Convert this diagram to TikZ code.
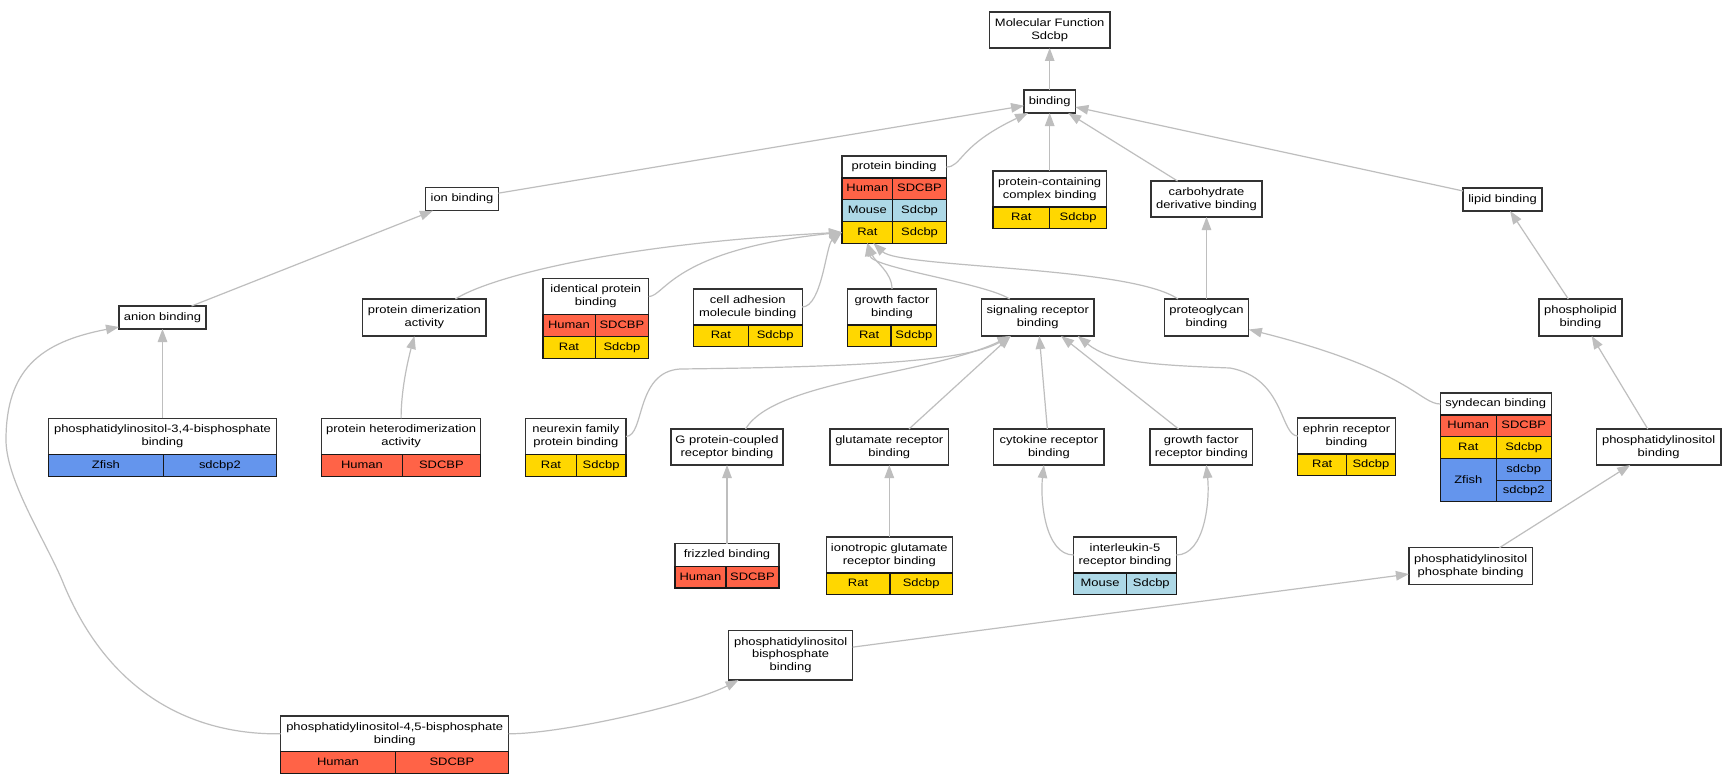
\documentclass[tikz,border=0pt]{standalone}
\usepackage{fontspec}
\setmainfont{Liberation Sans}[FakeStretch=1.2]
\usetikzlibrary{positioning,arrows.meta}
\definecolor{human}{HTML}{FF6347}
\definecolor{mouse}{HTML}{ADD8E6}
\definecolor{rat}{HTML}{FFD700}
\definecolor{zfish}{HTML}{6495ED}
\definecolor{linkgray}{HTML}{BEBEBE}
\newcommand{\gofont}{\fontsize{10.8}{12.8}\selectfont}
% one row of two species cells under a node
\newcommand{\speciesrow}[7]{%
  \node[#3, minimum width=#4, below right=0pt of #2.south west] (#1a) {#5};
  \node[#3, minimum width=#6, right=0pt of #1a] (#1b) {#7};
}
\tikzset{
  term/.style={draw=black!80, line width=1.2pt, fill=white, outer sep=0pt, inner sep=1pt, align=center, font=\gofont},
  cell/.style={draw=black!90, line width=1.2pt, outer sep=0pt, inner sep=0pt, minimum height=21.7, text height=8pt, text depth=2pt, font=\gofont},
  humancell/.style={cell, fill=human},
  mousecell/.style={cell, fill=mouse},
  ratcell/.style={cell, fill=rat},
  zfishcell/.style={cell, fill=zfish},
  isa/.style={draw=linkgray, line width=1.2pt, -{Triangle[length=13pt,width=9.5pt]}}
}
\begin{document}
\begin{tikzpicture}[x=1pt, y=-1pt]
\fill[white] (0,0) rectangle (1735,784);

\node[term, minimum width=120.5, minimum height=36] (mf) at (1049.7,30) {Molecular Function\\Sdcbp};
\node[term, minimum width=51.3, minimum height=23] (bind) at (1049.7,101.5) {binding};

\node[term, minimum width=104.4, minimum height=22] (pbind) at (894.1,167) {protein binding};
\speciesrow{pbindr1}{pbind}{humancell}{50.9}{Human}{53.5}{SDCBP}
\speciesrow{pbindr2}{pbindr1a}{mousecell}{50.9}{Mouse}{53.5}{Sdcbp}
\speciesrow{pbindr3}{pbindr2a}{ratcell}{50.9}{Rat}{53.5}{Sdcbp}
\node[term, minimum width=113.6, minimum height=36] (pcc) at (1049.7,189) {protein-containing\\complex binding};
\speciesrow{pccr1}{pcc}{ratcell}{56.8}{Rat}{56.8}{Sdcbp}
\node[term, minimum width=111, minimum height=36] (carb) at (1206.5,199) {carbohydrate\\derivative binding};
\node[term, minimum width=79, minimum height=23] (lipid) at (1502.5,199.5) {lipid binding};
\node[term, minimum width=72.7, minimum height=23] (ion) at (462,199.2) {ion binding};

\node[term, minimum width=87, minimum height=23] (anion) at (162.5,317.5) {anion binding};
\node[term, minimum width=123.2, minimum height=37] (dimer) at (424.4,317.5) {protein dimerization\\activity};
\node[term, minimum width=105.8, minimum height=36.4] (ident) at (595.8,296.5) {identical protein\\binding};
\speciesrow{identr1}{ident}{humancell}{52.2}{Human}{53.6}{SDCBP}
\speciesrow{identr2}{identr1a}{ratcell}{52.2}{Rat}{53.6}{Sdcbp}
\node[term, minimum width=108.6, minimum height=36] (cam) at (747.8,307) {cell adhesion\\molecule binding};
\speciesrow{camr1}{cam}{ratcell}{54.7}{Rat}{53.9}{Sdcbp}
\node[term, minimum width=89.5, minimum height=36] (gfb) at (892,307) {growth factor\\binding};
\speciesrow{gfbr1}{gfb}{ratcell}{43.7}{Rat}{45.8}{Sdcbp}
\node[term, minimum width=112.5, minimum height=37] (sig) at (1037.7,317.5) {signaling receptor\\binding};
\node[term, minimum width=84.7, minimum height=37] (pgly) at (1206.5,317.5) {proteoglycan\\binding};
\node[term, minimum width=83, minimum height=37] (phlip) at (1580.5,317.5) {phospholipid\\binding};

\node[term, minimum width=228, minimum height=36.4] (pi34) at (162.5,436.5) {phosphatidylinositol-3,4-bisphosphate\\binding};
\speciesrow{pi34r1}{pi34}{zfishcell}{114.8}{Zfish}{113.2}{sdcbp2}
\node[term, minimum width=158.8, minimum height=36.4] (hetero) at (401.1,436.5) {protein heterodimerization\\activity};
\speciesrow{heteror1}{hetero}{humancell}{80.6}{Human}{78.2}{SDCBP}
\node[term, minimum width=100.2, minimum height=36.4] (nrx) at (575.9,436.5) {neurexin family\\protein binding};
\speciesrow{nrxr1}{nrx}{ratcell}{50.4}{Rat}{49.8}{Sdcbp}
\node[term, minimum width=112, minimum height=36] (gpcr) at (727,447) {G protein-coupled\\receptor binding};
\node[term, minimum width=118.8, minimum height=36] (glut) at (889.3,447) {glutamate receptor\\binding};
\node[term, minimum width=110.2, minimum height=36] (cyto) at (1048.9,447) {cytokine receptor\\binding};
\node[term, minimum width=102.6, minimum height=36] (gfr) at (1201.3,447) {growth factor\\receptor binding};
\node[term, minimum width=97.3, minimum height=36] (eph) at (1346.5,436) {ephrin receptor\\binding};
\speciesrow{ephr1}{eph}{ratcell}{48.8}{Rat}{48.5}{Sdcbp}
\node[term, minimum width=110.8, minimum height=22] (synd) at (1495.7,404) {syndecan binding};
\speciesrow{syndr1}{synd}{humancell}{56}{Human}{54.8}{SDCBP}
\speciesrow{syndr2}{syndr1a}{ratcell}{56}{Rat}{54.8}{Sdcbp}
\node[zfishcell, minimum width=56, minimum height=43.4, below right=0pt of syndr2a.south west] (syndr3a) {Zfish};
\node[zfishcell, minimum width=54.8, below right=0pt of syndr3a.north east] (syndr3b) {sdcbp};
\node[zfishcell, minimum width=54.8, below=0pt of syndr3b] (syndr4b) {sdcbp2};
\node[term, minimum width=124.6, minimum height=36] (pib) at (1658.6,447) {phosphatidylinositol\\binding};

\node[term, minimum width=104, minimum height=22.6] (friz) at (727,555) {frizzled binding};
\speciesrow{frizr1}{friz}{humancell}{50.9}{Human}{53.1}{SDCBP}
\node[term, minimum width=126.3, minimum height=36] (iono) at (889.3,555) {ionotropic glutamate\\receptor binding};
\speciesrow{ionor1}{iono}{ratcell}{63.8}{Rat}{62.5}{Sdcbp}
\node[term, minimum width=102.6, minimum height=36] (il5) at (1125,555) {interleukin-5\\receptor binding};
\speciesrow{il5r1}{il5}{mousecell}{52.6}{Mouse}{50}{Sdcbp}
\node[term, minimum width=123.4, minimum height=36.6] (pip) at (1470.6,566) {phosphatidylinositol\\phosphate binding};
\node[term, minimum width=124, minimum height=49.7] (pibp) at (790.6,655.2) {phosphatidylinositol\\bisphosphate\\binding};
\node[term, minimum width=228, minimum height=35.7] (pi45) at (394.7,733.8) {phosphatidylinositol-4,5-bisphosphate\\binding};
\speciesrow{pi45r1}{pi45}{humancell}{114.4}{Human}{113.6}{SDCBP}

% is_a links
\draw[isa] (bind) -- (mf);
\draw[isa] (ion) -- (bind);
\draw[isa] (pbind.east) .. controls +(16,0) and (958,146) .. ([xshift=4pt]bind.south west);
\draw[isa] (pcc) -- (bind);
\draw[isa] (carb) -- (bind);
\draw[isa] (lipid) -- (bind);
\draw[isa] (anion) -- (ion);
\draw[isa] (pi34) -- (anion);
\draw[isa] (pi45.west) .. controls (200,735) and (110,700) .. (62,580) .. controls (45,540) and (6,480) .. (6,440) .. controls (6,370) and (40,342) .. ([yshift=2pt]anion.south west);
\draw[isa] (pi45.east) .. controls (560,734) and (690,705) .. ([xshift=10pt]pibp.south west);
\draw[isa] (pibp) -- (pip);
\draw[isa] (pip) -- (pib);
\draw[isa] (pib) -- (phlip);
\draw[isa] (phlip) -- (lipid);
\draw[isa] (pgly) -- (carb);
\draw[isa] ([xshift=-28.5pt]pgly.north) .. controls (1130,266) and (900,268) .. ([xshift=6pt]pbindr3a.south);
\draw[isa] ([xshift=-28pt]sig.north) .. controls (985,283) and (872,268) .. (pbindr3a.south);
\draw[isa] (gfb.north) .. controls (892,272) and (875,262) .. (pbindr3a.south);
\draw[isa] (cam.east) .. controls (822,307) and (826,245) .. (pbindr3a.west);
\draw[isa] (ident.east) .. controls (665,296.5) and (672,250) .. (pbindr3a.west);
\draw[isa] ([xshift=31pt]dimer.north) .. controls (485,280) and (600,245) .. (pbindr3a.west);
\draw[isa] (hetero.north) .. controls (401,390) and (408,360) .. ([xshift=-10pt]dimer.south);
\draw[isa] (nrx.east) .. controls (645,436) and (635,372) .. (680,369) .. controls (850,367) and (965,362) .. ([xshift=-27pt]sig.south);
\draw[isa] ([xshift=18.5pt]gpcr.north) .. controls (775,380) and (930,375) .. ([xshift=-27pt]sig.south);
\draw[isa] (glut) -- ([xshift=-27pt]sig.south);
\draw[isa] (cyto) -- (sig);
\draw[isa] (gfr) -- (sig);
\draw[isa] (eph.west) .. controls (1280,436) and (1285,378) .. (1230,368) .. controls (1150,365) and (1110,362) .. ([xshift=40pt]sig.south);
\draw[isa] (synd.west) .. controls (1420,404) and (1410,370) .. ([yshift=-12pt]pgly.east);
\draw[isa] (friz) -- (gpcr);
\draw[isa] (iono) -- (glut);
\draw[isa] (il5.west) .. controls (1045,555) and (1040,500) .. ([xshift=-5pt]cyto.south);
\draw[isa] (il5.east) .. controls (1205,555) and (1210,500) .. ([xshift=5pt]gfr.south);
\end{tikzpicture}
\end{document}
